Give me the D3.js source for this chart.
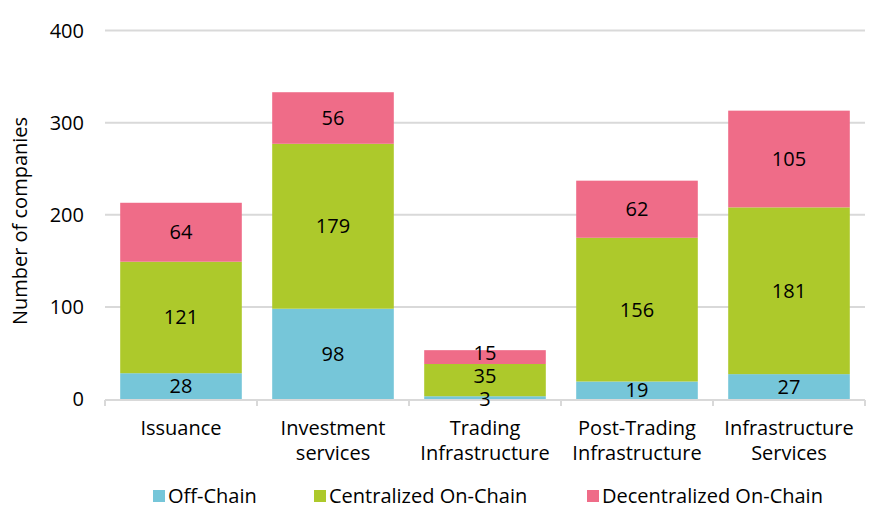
<!DOCTYPE html>
<html>
<head>
<meta charset="utf-8">
<script src="https://cdn.jsdelivr.net/npm/d3@7"></script>
<style>
  body { margin: 0; background: #fff; }
  text { font-family: "Open Sans", sans-serif; fill: #000; }
</style>
</head>
<body>
<svg id="chart" width="892" height="520"></svg>
<script>
// data
const categories = ["Issuance", "Investment services", "Trading Infrastructure", "Post-Trading Infrastructure", "Infrastructure Services"];
const categoryLines = [["Issuance"], ["Investment", "services"], ["Trading", "Infrastructure"], ["Post-Trading", "Infrastructure"], ["Infrastructure", "Services"]];
const seriesNames = ["Off-Chain", "Centralized On-Chain", "Decentralized On-Chain"];
const offChain = [28, 98, 3, 19, 27];
const centralized = [121, 179, 35, 156, 181];
const decentralized = [64, 56, 15, 62, 105];
const yTicks = [0, 100, 200, 300, 400];
const colors = ["#76c6d9", "#adc92b", "#ef6c88"];

let rows = categories.map(function(c, i) {
    return {cat: c, "Off-Chain": offChain[i], "Centralized On-Chain": centralized[i], "Decentralized On-Chain": decentralized[i]};
});

let svg = d3.select("#chart");

let x = d3.scaleBand().domain(categories).range([105, 865]).paddingInner(0.2).paddingOuter(0.1);
let y = d3.scaleLinear().domain([0, 400]).range([399, 30.5]);

//gridlines
svg.selectAll("line.grid")
    .data(yTicks.slice(1)).enter().append("line")
    .attr("class", "grid")
    .attr("x1", 105).attr("x2", 865)
    .attr("y1", function(d) { return y(d); })
    .attr("y2", function(d) { return y(d); })
    .attr("stroke", "#d9d9d9").attr("stroke-width", 2);

//y tick labels
svg.selectAll("text.ytick")
    .data(yTicks).enter().append("text")
    .attr("class", "ytick")
    .attr("x", 84).attr("y", function(d) { return y(d); })
    .attr("dy", "0.35em")
    .attr("text-anchor", "end")
    .attr("font-size", 20)
    .text(function(d) { return d; });

//y title
svg.append("text")
    .attr("transform", "translate(27," + 221 + ") rotate(-90)")
    .attr("text-anchor", "middle")
    .attr("font-size", 20)
    .text("Number of companies");

let stack = d3.stack().keys(seriesNames)(rows);

let layers = svg.selectAll("g.layer")
    .data(stack).enter().append("g")
    .attr("class", "layer")
    .attr("fill", function(d, i) { return colors[i]; });

layers.selectAll("rect")
    .data(function(d) { return d; }).enter().append("rect")
    .attr("x", function(d) { return x(d.data.cat); })
    .attr("width", x.bandwidth())
    .attr("y", function(d) { return y(d[1]); })
    .attr("height", function(d) { return y(d[0]) - y(d[1]); });

//x axis line and ticks
svg.append("line")
    .attr("x1", 105).attr("x2", 865)
    .attr("y1", 400).attr("y2", 400)
    .attr("stroke", "#d9d9d9").attr("stroke-width", 2);

let step = x.step();
let tickXs = d3.range(categories.length + 1).map(function(i) { return 105 + i * step; });
svg.selectAll("line.xtick")
    .data(tickXs).enter().append("line")
    .attr("class", "xtick")
    .attr("x1", function(d) { return d; }).attr("x2", function(d) { return d; })
    .attr("y1", 400).attr("y2", 406)
    .attr("stroke", "#d9d9d9").attr("stroke-width", 2);

//data labels (drawn above the axis line)
let labelG = svg.selectAll("g.labels")
    .data(stack).enter().append("g")
    .attr("class", "labels");

labelG.selectAll("text")
    .data(function(d) { return d; }).enter().append("text")
    .attr("x", function(d) { return x(d.data.cat) + x.bandwidth() / 2; })
    .attr("y", function(d) {
        let v = d[1] - d[0];
        let mid = (y(d[0]) + y(d[1])) / 2;
        if (v < 5) return y(d[0]);
        //short stack: labels nudged up a little like the original
        if (d.data["Decentralized On-Chain"] + d.data["Centralized On-Chain"] < 60) return mid - 4;
        return mid;
    })
    .attr("dy", "0.35em")
    .attr("text-anchor", "middle")
    .attr("font-size", 20)
    .style("fill", "#000")
    .text(function(d) { return d[1] - d[0]; });

//category labels
let catG = svg.selectAll("g.cat")
    .data(categories).enter().append("g")
    .attr("class", "cat")
    .attr("transform", function(d) { return "translate(" + (x(d) + x.bandwidth() / 2) + ",0)"; });

catG.selectAll("text")
    .data(function(d, i) { return categoryLines[i]; }).enter().append("text")
    .attr("x", 0)
    .attr("y", function(d, i) { return 435 + i * 25; })
    .attr("text-anchor", "middle")
    .attr("font-size", 20)
    .text(function(d) { return d; });

//legend
let legendX = [153, 314, 587];
let legend = svg.selectAll("g.legend")
    .data(seriesNames).enter().append("g")
    .attr("class", "legend")
    .attr("transform", function(d, i) { return "translate(" + legendX[i] + ",496)"; });

legend.append("rect")
    .attr("x", 0).attr("y", -6)
    .attr("width", 12).attr("height", 12)
    .attr("fill", function(d, i) { return colors[i]; });

legend.append("text")
    .attr("x", 15).attr("y", 0)
    .attr("dy", "0.35em")
    .attr("font-size", 20)
    .text(function(d) { return d; });
</script>
</body>
</html>
